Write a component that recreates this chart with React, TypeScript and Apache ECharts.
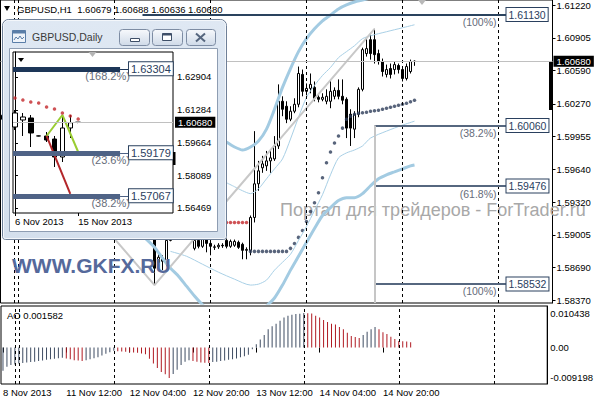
import React, { useEffect, useRef } from 'react';
import * as echarts from 'echarts';

const FF = '"Liberation Sans", Arial, Helvetica, sans-serif';

// ---------- H1 main chart (bar index 0 = 8 Nov 20:00) ----------
// [open, close, low, high]
const h1Candles: number[][] = [
  [1.6012, 1.6016, 1.6008, 1.6021], [1.6016, 1.6013, 1.6009, 1.6019], [1.6013, 1.6015, 1.601, 1.6018], [1.6015, 1.6015, 1.6012, 1.6017],
  [1.6001, 1.6004, 1.5998, 1.6008], [1.6004, 1.6009, 1.6001, 1.6012], [1.6009, 1.6006, 1.6003, 1.6013], [1.6006, 1.6011, 1.6004, 1.6016],
  [1.6011, 1.6015, 1.6008, 1.602], [1.6015, 1.601, 1.6006, 1.6018], [1.601, 1.6003, 1.5999, 1.6013], [1.6003, 1.5996, 1.599, 1.6006],
  [1.5996, 1.6, 1.5991, 1.6004], [1.6, 1.5994, 1.5988, 1.6003], [1.5994, 1.5985, 1.598, 1.5998], [1.5985, 1.5979, 1.5972, 1.5989],
  [1.5979, 1.5984, 1.5973, 1.5988], [1.5984, 1.599, 1.598, 1.5994], [1.599, 1.5986, 1.5981, 1.5995], [1.5986, 1.5992, 1.5983, 1.5996],
  [1.5992, 1.5989, 1.5985, 1.5995], [1.5989, 1.5985, 1.5982, 1.5993], [1.5985, 1.5982, 1.5978, 1.5988], [1.5982, 1.5984, 1.5979, 1.5987],
  [1.5984, 1.5981, 1.5977, 1.5986], [1.5981, 1.5983, 1.5979, 1.5986], [1.5983, 1.598, 1.5976, 1.5985], [1.598, 1.5982, 1.5977, 1.5984],
  [1.5985, 1.5983, 1.5978, 1.5988], [1.5983, 1.5978, 1.5974, 1.5986], [1.5978, 1.5972, 1.5968, 1.5981], [1.5972, 1.5964, 1.596, 1.5975],
  [1.5964, 1.5955, 1.595, 1.5967], [1.5955, 1.5944, 1.5938, 1.5958], [1.5944, 1.5931, 1.5926, 1.5947], [1.5931, 1.592, 1.5912, 1.5935],
  [1.592, 1.5925, 1.5908, 1.5929], [1.5925, 1.5914, 1.5905, 1.5928], [1.5912, 1.58684, 1.58521, 1.5916], [1.58741, 1.58789, 1.58703, 1.58837],
  [1.5878, 1.58751, 1.58665, 1.58808], [1.58741, 1.58952, 1.58703, 1.58991], [1.58952, 1.5905, 1.58943, 1.591], [1.5905, 1.5912, 1.5901, 1.5918],
  [1.5912, 1.5908, 1.5903, 1.5916], [1.5908, 1.5915, 1.5904, 1.592], [1.5915, 1.5911, 1.5906, 1.5919], [1.5911, 1.59, 1.5898, 1.5914],
  [1.58875, 1.58952, 1.58856, 1.59], [1.58952, 1.58895, 1.58875, 1.58991], [1.58895, 1.5899, 1.5888, 1.5902], [1.58971, 1.58923, 1.58837, 1.5901],
  [1.58923, 1.58895, 1.58808, 1.58952], [1.58885, 1.5889, 1.5886, 1.5891], [1.5889, 1.58905, 1.5887, 1.58925], [1.58905, 1.589, 1.5888, 1.58925],
  [1.58952, 1.58895, 1.58875, 1.5897], [1.58895, 1.58942, 1.5888, 1.5896], [1.58905, 1.58942, 1.5889, 1.5896], [1.58933, 1.58885, 1.5887, 1.5895],
  [1.58914, 1.58856, 1.5877, 1.5893], [1.58856, 1.58865, 1.5877, 1.58885], [1.58856, 1.59173, 1.58808, 1.59192], [1.59173, 1.59498, 1.59125, 1.60006],
  [1.59498, 1.59623, 1.59431, 1.59719], [1.59652, 1.5969, 1.59604, 1.59767], [1.59671, 1.59719, 1.59623, 1.59815], [1.59719, 1.59748, 1.59604, 1.59815],
  [1.59738, 1.59863, 1.59719, 1.59958], [1.59863, 1.60294, 1.59834, 1.60457], [1.60294, 1.60217, 1.6015, 1.60342], [1.60246, 1.60121, 1.60083, 1.60294],
  [1.60121, 1.60198, 1.60102, 1.60246], [1.60198, 1.60265, 1.60179, 1.60323], [1.60265, 1.60562, 1.60236, 1.60629], [1.60553, 1.6039, 1.60342, 1.606],
  [1.6039, 1.60418, 1.60351, 1.60466], [1.60418, 1.60457, 1.60371, 1.60562], [1.60428, 1.60323, 1.60294, 1.60485], [1.60332, 1.60313, 1.60284, 1.60361],
  [1.60313, 1.60332, 1.60294, 1.60371], [1.60294, 1.60342, 1.60265, 1.60409], [1.60294, 1.6039, 1.60227, 1.60505], [1.60342, 1.60399, 1.60313, 1.60428],
  [1.60399, 1.60342, 1.60313, 1.60505], [1.60342, 1.60304, 1.60265, 1.60505], [1.60313, 1.60035, 1.59939, 1.60332], [1.60169, 1.60035, 1.59863, 1.60217],
  [1.60025, 1.60169, 1.59939, 1.60198], [1.60169, 1.60409, 1.6014, 1.60428], [1.60409, 1.60792, 1.6039, 1.60811], [1.60754, 1.60802, 1.60725, 1.60898],
  [1.60888, 1.60754, 1.60696, 1.60936], [1.60888, 1.60744, 1.60658, 1.60993], [1.60754, 1.60677, 1.60648, 1.60792], [1.60677, 1.60581, 1.60533, 1.60706],
  [1.60553, 1.606, 1.60524, 1.60648], [1.6061, 1.60553, 1.60514, 1.60658], [1.606, 1.60648, 1.60553, 1.60677], [1.60639, 1.606, 1.60562, 1.60658],
  [1.606, 1.60514, 1.60485, 1.60629], [1.60514, 1.60629, 1.60495, 1.60658], [1.60581, 1.60677, 1.60562, 1.60696], [1.60679, 1.6068, 1.60636, 1.60688],
];

const aoValues: number[] = [
  -0.007, -0.0058, -0.0053, -0.0051, -0.0048, -0.0047, -0.0045, -0.0044, -0.0043, -0.0041, -0.0039, -0.0037, -0.0035, -0.0034, -0.0032, -0.0031,
  -0.0033, -0.0035, -0.0038, -0.0039, -0.0041,
  -0.0038, -0.0035, -0.0032, -0.0029, -0.0024, -0.0019, -0.0014, -0.001,
  -0.0011, -0.0012, -0.0013, -0.0014, -0.0015, -0.0016, -0.0018, -0.002, -0.0034, -0.0048, -0.0062, -0.0074, -0.0081, -0.009198,
  -0.008, -0.0067, -0.0053, -0.0043, -0.0038,
  -0.0041, -0.0043, -0.0045, -0.0046, -0.0047,
  -0.0044, -0.0043, -0.0041, -0.0039, -0.0037, -0.0035, -0.0033, -0.0029, -0.0026, -0.0022, -0.0005,
  0.001, 0.0024, 0.0038, 0.0055, 0.0064, 0.0072, 0.0081, 0.0091, 0.0096, 0.0099, 0.0101, 0.0102, 0.010438,
  0.0104, 0.0103, 0.0096, 0.0091, 0.0083, 0.0077, 0.0072, 0.007, 0.0062, 0.0055, 0.0045, 0.0035, 0.0032, 0.0029,
  0.0038, 0.0048, 0.0055, 0.0062,
  0.0055, 0.0046, 0.0041, 0.0033, 0.0026, 0.002, 0.0019, 0.0018, 0.001582,
];

const bbUpper: number[][] = [
  [56, 1.59901], [58, 1.59853], [60, 1.59824], [62, 1.59853], [64, 1.5991], [66, 1.60025], [68, 1.60217], [70, 1.60428],
  [72, 1.6061], [74, 1.60773], [76, 1.60898], [78, 1.60993], [80, 1.6107], [82, 1.61127], [84, 1.61185], [86, 1.61223],
  [88, 1.61252], [90, 1.61271], [92, 1.6129], [96, 1.61329], [103, 1.61367],
];
const bbLower: number[][] = [
  [34, 1.59038], [36, 1.58962], [38, 1.58885], [40, 1.5878], [42, 1.58684], [44, 1.58607], [46, 1.58511], [48, 1.58416],
  [50, 1.5833], [52, 1.58252], [54, 1.58195], [56, 1.58166], [58, 1.58157], [60, 1.58166], [62, 1.58205], [64, 1.58262],
  [66, 1.5832], [68, 1.58396], [70, 1.58521], [72, 1.58665], [74, 1.58799], [76, 1.58933], [78, 1.59067], [80, 1.59192],
  [82, 1.59268], [84, 1.59336], [86, 1.59364], [88, 1.59364], [90, 1.59403], [92, 1.59479], [94, 1.59546], [96, 1.59585],
  [98, 1.59613], [100, 1.59642], [102, 1.59671], [103, 1.5968],
];
const envUpper: number[][] = [
  [56, 1.59508], [58, 1.5947], [60, 1.59431], [62, 1.59403], [64, 1.5945], [66, 1.59546], [68, 1.59642], [70, 1.59738],
  [72, 1.5993], [74, 1.6014], [76, 1.60332], [78, 1.60447], [80, 1.60543], [82, 1.6062], [84, 1.60715], [86, 1.60773],
  [88, 1.6083], [90, 1.60898], [92, 1.60926], [96, 1.60965], [100, 1.61003], [103, 1.61032],
];
const envLower: number[][] = [
  [42, 1.58846], [46, 1.58799], [50, 1.58722], [54, 1.58645], [58, 1.58578], [62, 1.58521], [64, 1.5853], [66, 1.58569],
  [68, 1.58665], [70, 1.58741], [72, 1.58818], [74, 1.58952], [76, 1.59086], [78, 1.5924], [80, 1.59393], [82, 1.59585],
  [84, 1.59748], [86, 1.59796], [88, 1.59824], [90, 1.59863], [92, 1.59939], [96, 1.60006], [100, 1.60064], [103, 1.60102],
];
const zigzag: number[][] = [[0, 1.60217], [38, 1.58521], [93, 1.60993]];
const sarDown: number[][] = [[56, 1.59125], [57, 1.59125], [58, 1.59125], [59, 1.59125], [60, 1.59125], [61, 1.59125]];
const sarUp: number[][] = [
  [62, 1.58846], [63, 1.58846], [64, 1.58846], [65, 1.58846], [66, 1.58846], [67, 1.58846], [68, 1.58846], [69, 1.58846],
  [70, 1.58846], [71, 1.58846], [72, 1.58875], [73, 1.58923], [74, 1.58981], [75, 1.59048], [76, 1.59134], [77, 1.5923],
  [78, 1.59316], [79, 1.59412], [80, 1.59556], [81, 1.597], [82, 1.59805], [83, 1.59891], [84, 1.59958], [85, 1.60035],
  [86, 1.60121], [87, 1.6015], [88, 1.60169], [89, 1.60179], [90, 1.60184], [91, 1.60188], [92, 1.60198], [93, 1.60203],
  [94, 1.60208], [95, 1.60217], [96, 1.60227], [97, 1.60236], [98, 1.60246], [99, 1.60255], [100, 1.60265], [101, 1.60275],
  [102, 1.60289], [103, 1.60303],
];

const fibValues = [1.6113, 1.6006, 1.59476, 1.58532];
const fibPercents = ['(100%)', '(38.2%)', '(61.8%)', '(100%)'];
const fibStartIdx = [35, 93, 93, 93];
const fibEndIdx = 126;
const lastPrice = 1.6068;

const priceTicks = [1.6122, 1.60905, 1.6059, 1.6027, 1.59955, 1.5964, 1.5932, 1.59005, 1.5869, 1.5837];
const aoTicks = [0.010438, 0, -0.009198];
const timeTickIdx = [0, 16, 32, 48, 64, 80, 96];
const timeTickLabels = ['8 Nov 2013', '11 Nov 12:00', '12 Nov 04:00', '12 Nov 20:00', '13 Nov 12:00', '14 Nov 04:00', '14 Nov 20:00'];
const daySeparators = [3, 4, 28, 52, 76, 100, 124];
const SLOTS = 138;

// ---------- Daily inset ----------
// [x, open, close, low, high]
const dailyCandles: number[][] = [
  [0, 1.60448, 1.61136, 1.603, 1.61283],
  [1, 1.60792, 1.60939, 1.60006, 1.61136],
  [2, 1.6089, 1.60153, 1.59465, 1.61037],
  [3, 1.6001, 1.60006, 1.5999, 1.60025],
  [4, 1.60006, 1.59809, 1.59711, 1.60202],
  [5, 1.59858, 1.58974, 1.58483, 1.60006],
  [6, 1.58974, 1.60399, 1.58728, 1.60939],
  [7, 1.60399, 1.6066, 1.59907, 1.61037],
  [8, 1.60679, 1.6068, 1.60636, 1.60688],
];
const dailyDateIdx = [0, 8];
const dailyDateLabels = ['6 Nov 2013', '15 Nov 2013'];
const dailySar: number[][] = [[0, 1.61872], [1, 1.61774], [2, 1.61676], [3, 1.61627], [4, 1.6143], [5, 1.61332], [6, 1.61136], [7, 1.60988], [8, 1.60841]];
const dailyTicks = [1.62904, 1.61284, 1.59664, 1.58089, 1.56469];
const dailyFibValues = [1.63304, 1.59179, 1.57067];
const dailyFibPercents = ['(168.2%)', '(23.6%)', '(38.2%)'];
const dailyFibColors = ['#1d3658', '#4f6386', '#4f6386'];
const greenLine: number[][] = [[4, 1.60006], [6, 1.61037], [8, 1.5922]];
const redLine: number[][] = [[4, 1.60006], [7, 1.57157]];

const categories = Array.from({ length: SLOTS }, (_, i) => {
  if (i < 4) return `8 Nov ${20 + i}:00`;
  const k = i - 4;
  return `${11 + Math.floor(k / 24)} Nov ${String(k % 24).padStart(2, '0')}:00`;
});

const HIDDEN = { color: 'rgba(0,0,0,0)', width: 0, type: 'solid' };

function buildOption(): any {
  const txt = (x: number, y: number, text: string, size: number, fill: string, z: number, extra: any = {}) => ({
    type: 'text', x, y, z, silent: true,
    style: { text, fill, font: `${extra.weight || 'normal'} ${size}px ${FF}`, align: extra.align || 'left', verticalAlign: 'middle' },
  });
  const btnFill = () => new echarts.graphic.LinearGradient(0, 0, 0, 1, [
    { offset: 0, color: '#f7f9fc' }, { offset: 1, color: '#cfdae8' },
  ]);

  const fibMarks: any[] = [];
  fibValues.forEach((v, k) => {
    fibMarks.push([
      {
        coord: [fibStartIdx[k], v],
        lineStyle: { color: k === 0 ? '#2a435e' : '#56677f', width: 2, type: 'solid' },
        label: {
          show: true, position: 'end', distance: 0, formatter: v.toFixed(5), color: '#2a405e',
          fontSize: 10.5, fontFamily: FF, backgroundColor: '#fff', borderColor: '#2a405e', borderWidth: 1,
          padding: [1, 2, 0, 2], lineHeight: 12,
        },
      },
      { coord: [fibEndIdx, v] },
    ]);
    fibMarks.push([
      {
        coord: [fibEndIdx - 12, v],
        lineStyle: HIDDEN,
        label: { show: true, position: 'insideEndBottom', distance: 2, formatter: fibPercents[k], color: '#666c7a', fontSize: 10.5, fontFamily: FF },
      },
      { coord: [fibEndIdx - 2, v] },
    ]);
  });
  fibMarks.push([
    { coord: [93, fibValues[1]], lineStyle: { color: '#c6c6c6', width: 2, type: 'solid' } },
    { coord: [93, 1.58348] },
  ]);
  const sepMarks = daySeparators.map((i) => ({ xAxis: i, lineStyle: { color: '#000', width: 1, type: [3, 3] } }));

  const dailyMarks: any[] = [];
  dailyFibValues.forEach((v, k) => {
    dailyMarks.push([
      { coord: [-0.25, v], lineStyle: { color: dailyFibColors[k], width: 5, type: 'solid' } },
      { coord: [13.3, v] },
    ]);
    dailyMarks.push([
      {
        coord: [13.3, v], lineStyle: { color: dailyFibColors[k], width: 1, type: 'solid' },
        label: {
          show: true, position: 'end', distance: 0, formatter: v.toFixed(5), color: '#2a405e', fontSize: 11, fontFamily: FF,
          backgroundColor: '#fff', borderColor: '#2a405e', borderWidth: 1, padding: [1, 2, 0, 2], lineHeight: 12,
        },
      },
      { coord: [14.43, v] },
    ]);
    dailyMarks.push([
      {
        coord: [9, v], lineStyle: HIDDEN,
        label: { show: true, position: 'insideEndBottom', distance: 2, formatter: dailyFibPercents[k], color: '#666c7a', fontSize: 11, fontFamily: FF },
      },
      { coord: [14.8, v] },
    ]);
  });
  dailyMarks.push({
    yAxis: lastPrice, lineStyle: { color: '#c0c0c0', width: 1, type: 'solid' },
    label: { show: true, position: 'end', distance: 2, formatter: lastPrice.toFixed(5), color: '#fff', backgroundColor: '#000', padding: [1, 3, 0, 3], fontSize: 9.5, fontFamily: FF },
  });

  const axisLbl = { fontSize: 9.5, fontFamily: FF, color: '#000' };
  const lineS = (data: number[][], color: string, width: number, smooth = 0.25) => ({
    type: 'line', xAxisIndex: 0, yAxisIndex: 0, data, showSymbol: false, smooth, connectNulls: true,
    lineStyle: { color, width }, silent: true, animation: false,
  });

  return {
    animation: false,
    backgroundColor: '#fff',
    grid: [
      { left: 0.5, top: -2, width: 552, height: 305, show: true, borderColor: '#000', borderWidth: 1, backgroundColor: 'transparent' },
      { left: 0.5, top: 306, width: 552, height: 78, show: true, borderColor: '#000', borderWidth: 1, backgroundColor: 'transparent' },
      { left: 13, top: 52, width: 160, height: 161, show: true, borderColor: '#000', borderWidth: 1, backgroundColor: '#fff', z: 20 },
    ],
    xAxis: [
      { gridIndex: 0, type: 'category', data: categories, boundaryGap: true, axisLine: { show: false }, axisTick: { show: false }, axisLabel: { show: false }, splitLine: { show: false } },
      {
        gridIndex: 1, type: 'category', data: categories, boundaryGap: true, axisLine: { show: false },
        axisTick: { show: true, interval: (i: number) => timeTickIdx.includes(i), alignWithLabel: true, length: 5, lineStyle: { color: '#000' } },
        axisLabel: {
          ...axisLbl, interval: (i: number) => timeTickIdx.includes(i), align: 'left', margin: 3,
          formatter: (_v: string, i: number) => { const k = timeTickIdx.indexOf(i); return k >= 0 ? timeTickLabels[k] : ''; },
        },
        splitLine: { show: false },
      },
      {
        gridIndex: 2, type: 'value', min: -0.25, max: 20, z: 20, axisLine: { show: false }, splitLine: { show: false },
        axisTick: { show: true, customValues: dailyDateIdx, length: 3, lineStyle: { color: '#000' } },
        axisLabel: { ...axisLbl, customValues: dailyDateIdx, align: 'left', margin: 3, formatter: (v: number) => dailyDateLabels[dailyDateIdx.indexOf(v)] || '' },
      },
    ],
    yAxis: [
      {
        gridIndex: 0, type: 'value', position: 'right', min: 1.58348, max: 1.61271, splitLine: { show: false },
        axisLine: { show: true, lineStyle: { color: '#000' } },
        axisTick: { show: true, customValues: priceTicks, length: 3, lineStyle: { color: '#000' } },
        axisLabel: { ...axisLbl, customValues: priceTicks, margin: 4, formatter: (v: number) => v.toFixed(5) },
      },
      {
        gridIndex: 1, type: 'value', position: 'right', min: -0.011011, max: 0.012553, splitLine: { show: false },
        axisLine: { show: true, lineStyle: { color: '#000' } },
        axisTick: { show: false },
        axisLabel: { ...axisLbl, customValues: aoTicks, margin: 3, formatter: (v: number) => (Math.abs(v) < 1e-9 ? '0.00' : v.toFixed(6)) },
      },
      {
        gridIndex: 2, type: 'value', position: 'right', min: 1.56223, max: 1.64132, z: 20, splitLine: { show: false },
        axisLine: { show: true, lineStyle: { color: '#000' } },
        axisTick: { show: true, customValues: dailyTicks, length: 3, lineStyle: { color: '#000' } },
        axisLabel: { ...axisLbl, customValues: dailyTicks, margin: 4, formatter: (v: number) => v.toFixed(5) },
      },
    ],
    series: [
      lineS(bbUpper, '#a3cbe2', 3),
      lineS(bbLower, '#a3cbe2', 3),
      lineS(envUpper, '#a9d0e6', 1),
      lineS(envLower, '#a9d0e6', 1),
      lineS(zigzag, '#c8c8c8', 2, 0),
      {
        type: 'candlestick', xAxisIndex: 0, yAxisIndex: 0, data: h1Candles, barWidth: 3, silent: true,
        itemStyle: { color: '#fff', color0: '#000', borderColor: '#000', borderColor0: '#000', borderWidth: 1 },
        markLine: {
          silent: true, symbol: ['none', 'none'], animation: false, precision: 6, label: { show: false },
          data: [
            ...sepMarks,
            {
              yAxis: lastPrice, lineStyle: { color: '#c0c0c0', width: 1, type: 'solid' },
              label: { show: true, position: 'end', distance: 1, formatter: lastPrice.toFixed(5), color: '#fff', backgroundColor: '#000', padding: [1, 3, 0, 3], fontSize: 9.5, fontFamily: FF },
            },
            ...fibMarks,
          ],
        },
      },
      { type: 'scatter', xAxisIndex: 0, yAxisIndex: 0, data: sarUp, symbol: 'circle', symbolSize: 3.5, itemStyle: { color: '#2e3d5a' }, silent: true },
      { type: 'scatter', xAxisIndex: 0, yAxisIndex: 0, data: sarDown, symbol: 'circle', symbolSize: 3.5, itemStyle: { color: '#c3272b' }, silent: true },
      {
        type: 'bar', xAxisIndex: 1, yAxisIndex: 1, barWidth: 1, silent: true,
        data: aoValues.map((v, i) => ({ value: v, itemStyle: { color: i > 0 && v < aoValues[i - 1] ? '#b01a22' : '#3e4c62' } })),
        markLine: { silent: true, symbol: ['none', 'none'], animation: false, label: { show: false }, data: sepMarks },
      },
      {
        type: 'candlestick', xAxisIndex: 2, yAxisIndex: 2, z: 21, data: dailyCandles, barWidth: 5, silent: true,
        itemStyle: { color: '#fff', color0: '#000', borderColor: '#000', borderColor0: '#000', borderWidth: 1 },
      },
      { type: 'scatter', xAxisIndex: 2, yAxisIndex: 2, z: 22, data: dailySar, symbol: 'circle', symbolSize: 3.5, itemStyle: { color: '#c3272b' }, silent: true },
      {
        type: 'line', xAxisIndex: 2, yAxisIndex: 2, z: 22, data: greenLine, showSymbol: false, lineStyle: { color: '#9acd32', width: 2 }, silent: true,
        markLine: { z: 30, silent: true, symbol: ['none', 'none'], animation: false, precision: 6, label: { show: false }, data: dailyMarks },
      },
      { type: 'line', xAxisIndex: 2, yAxisIndex: 2, z: 22, data: redLine, showSymbol: false, lineStyle: { color: '#b3262a', width: 2 }, silent: true },
    ],
    graphic: [
      { type: 'polygon', z: 5, silent: true, shape: { points: [[4, 6], [10, 6], [7, 11]] }, style: { fill: '#000' } },
      txt(17, 9, 'GBPUSD,H1  1.60679 1.60688 1.60636 1.60680', 9.5, '#000', 5),
      { type: 'polygon', z: 5, silent: true, shape: { points: [[418, 0], [426, 0], [422, 5]] }, style: { fill: '#b8b8b8' } },
      { type: 'rect', z: 5, silent: true, shape: { x: 549, y: 61, width: 3, height: 49 }, style: { fill: '#000' } },
      txt(280, 210, 'Портал для трейдеров - ForTrader.ru', 18, '#a8a8a8', 1),
      txt(12, 265, 'WWW.GKFX.RU', 21, '#55699b', 6, { weight: 'bold' }),
      txt(7, 315, 'AO 0.001582', 9.5, '#000', 5),
      {
        type: 'rect', z: 10, silent: true, shape: { x: 2.5, y: 19.5, width: 224, height: 220, r: [6, 6, 3, 3] },
        style: { fill: new echarts.graphic.LinearGradient(0, 0, 0, 1, [{ offset: 0, color: '#dfe8f3' }, { offset: 1, color: '#d4dfec' }]), stroke: '#6e7f97', lineWidth: 1 },
      },
      { type: 'rect', z: 10, silent: true, shape: { x: 3.5, y: 20.5, width: 222, height: 218, r: [5, 5, 2, 2] }, style: { fill: 'none', stroke: '#f4f7fb', lineWidth: 1 } },
      { type: 'rect', z: 10, silent: true, shape: { x: 9.5, y: 48.5, width: 208, height: 183 }, style: { fill: '#fff', stroke: '#8e9db2', lineWidth: 1 } },
      { type: 'rect', z: 11, silent: true, shape: { x: 12.5, y: 30.5, width: 13, height: 12 }, style: { fill: '#eef3f9', stroke: '#5a7ea8', lineWidth: 1 } },
      { type: 'rect', z: 11, silent: true, shape: { x: 12.5, y: 30.5, width: 13, height: 3 }, style: { fill: '#5a7ea8' } },
      { type: 'polyline', z: 11, silent: true, shape: { points: [[14, 40], [16, 37], [18, 39], [20, 36], [22, 39], [24, 37]] }, style: { stroke: '#5a7ea8', fill: 'none', lineWidth: 1 } },
      txt(32, 37, 'GBPUSD,Daily', 10.5, '#3a3a3a', 11),
      { type: 'rect', z: 11, silent: true, shape: { x: 119.5, y: 29.5, width: 30, height: 16, r: 3 }, style: { fill: btnFill(), stroke: '#7d8ca3', lineWidth: 1 } },
      { type: 'rect', z: 11, silent: true, shape: { x: 152.5, y: 29.5, width: 30, height: 16, r: 3 }, style: { fill: btnFill(), stroke: '#7d8ca3', lineWidth: 1 } },
      { type: 'rect', z: 11, silent: true, shape: { x: 186.5, y: 29.5, width: 29, height: 16, r: 3 }, style: { fill: btnFill(), stroke: '#7d8ca3', lineWidth: 1 } },
      { type: 'rect', z: 12, silent: true, shape: { x: 130.5, y: 38.5, width: 9, height: 3 }, style: { fill: '#fff', stroke: '#3e4f68', lineWidth: 1 } },
      { type: 'rect', z: 12, silent: true, shape: { x: 162.5, y: 33.5, width: 9, height: 7 }, style: { fill: '#fff', stroke: '#3e4f68', lineWidth: 1 } },
      { type: 'rect', z: 12, silent: true, shape: { x: 162.5, y: 33.5, width: 9, height: 2 }, style: { fill: '#3e4f68' } },
      { type: 'line', z: 12, silent: true, shape: { x1: 196, y1: 33.5, x2: 205, y2: 41.5 }, style: { stroke: '#56667e', lineWidth: 2 } },
      { type: 'line', z: 12, silent: true, shape: { x1: 205, y1: 33.5, x2: 196, y2: 41.5 }, style: { stroke: '#56667e', lineWidth: 2 } },
      { type: 'polygon', z: 35, silent: true, shape: { points: [[18, 58], [24, 58], [21, 62]] }, style: { fill: '#000' } },
      { type: 'polygon', z: 35, silent: true, shape: { points: [[88.5, 52], [96.5, 52], [92.5, 57]] }, style: { fill: '#b4b4b4' } },
      { type: 'rect', z: 35, silent: true, shape: { x: 173, y: 152, width: 2.5, height: 13 }, style: { fill: '#000' } },
    ],
  };
}

export default function App() {
  const ref = useRef<HTMLDivElement>(null);
  useEffect(() => {
    if (!ref.current) return;
    const chart = echarts.init(ref.current, null, { renderer: 'svg' });
    chart.setOption(buildOption());
    return () => chart.dispose();
  }, []);
  return <div ref={ref} style={{ position: 'fixed', left: 0, top: 0, width: 596, height: 400, background: '#fff' }} />;
}
